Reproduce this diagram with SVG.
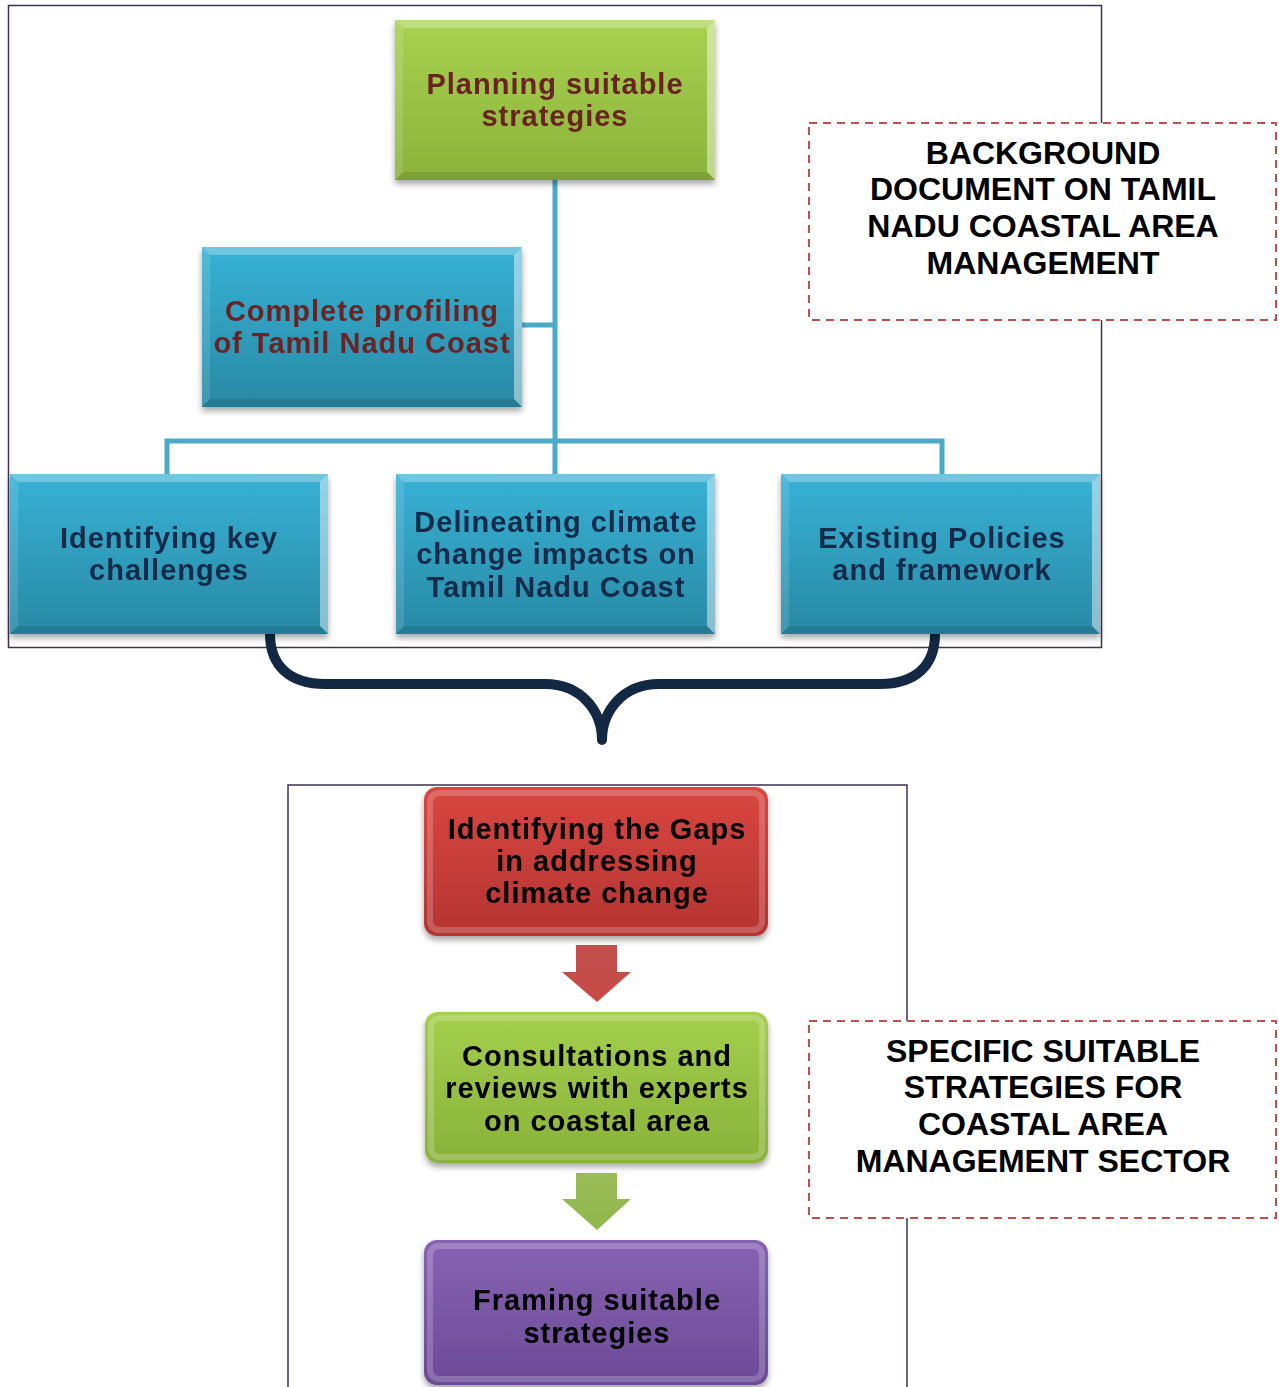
<svg xmlns="http://www.w3.org/2000/svg" width="1279" height="1387" viewBox="0 0 1279 1387">
<defs>
<linearGradient id="gGreen" x1="0" y1="0" x2="0" y2="1"><stop offset="0" stop-color="#a8d150"/><stop offset="1" stop-color="#8bb33a"/></linearGradient>
<linearGradient id="gBlue" x1="0" y1="0" x2="0" y2="1"><stop offset="0" stop-color="#38b2d6"/><stop offset="1" stop-color="#2889a4"/></linearGradient>
<linearGradient id="gRed" x1="0" y1="0" x2="0" y2="1"><stop offset="0" stop-color="#d94641"/><stop offset="1" stop-color="#b53431"/></linearGradient>
<linearGradient id="gGreen2" x1="0" y1="0" x2="0" y2="1"><stop offset="0" stop-color="#a4cf4c"/><stop offset="1" stop-color="#89b23b"/></linearGradient>
<linearGradient id="gPurple" x1="0" y1="0" x2="0" y2="1"><stop offset="0" stop-color="#8763b3"/><stop offset="1" stop-color="#6c4a96"/></linearGradient>
<linearGradient id="gArrR" x1="0" y1="0" x2="0" y2="1"><stop offset="0" stop-color="#c0504d"/><stop offset="1" stop-color="#c84a46"/></linearGradient>
<linearGradient id="gArrG" x1="0" y1="0" x2="0" y2="1"><stop offset="0" stop-color="#9bbb59"/><stop offset="1" stop-color="#8fb84c"/></linearGradient>
<filter id="sh" x="-10%" y="-10%" width="120%" height="130%"><feDropShadow dx="0" dy="4" stdDeviation="3" flood-color="#000" flood-opacity="0.35"/></filter>
</defs>
<style>
.frame{fill:none;stroke:#3f3151;stroke-width:1.5}
.conn{fill:none;stroke:#4aabc6;stroke-width:5}
.brace{fill:none;stroke:#132843;stroke-width:10;stroke-linecap:round;stroke-linejoin:round}
.dash{fill:#fff;stroke:#c0504d;stroke-width:2;stroke-dasharray:8 6}
.bt{fill:#fff;opacity:.28}
.br{fill:#fff;opacity:.45}
.bl{fill:#fff;opacity:.12}
.bb{fill:#000;opacity:.1}
.t{font-family:"Liberation Sans",Arial,sans-serif;font-weight:bold;font-size:29px;letter-spacing:1px;text-anchor:middle}
.tr{fill:#6b2222}
.tn{fill:#142a4a}
.tk{fill:#000}
.cap{font-family:"Liberation Sans",Arial,sans-serif;font-weight:bold;font-size:32px;text-anchor:middle;fill:#000}
.hl{fill:none;stroke:#fff;stroke-opacity:.2;stroke-width:6}
</style>
<rect class="frame" x="8.5" y="5.5" width="1093" height="642"/>
<rect class="frame" x="288" y="785" width="619" height="620"/>
<g id="connectors">
<path class="conn" d="M555,178 V474 M520,325 H555 M167,474 V441 H942 V474"/>
<path class="brace" d="M270,634 C270,666 290,684 325,684 L545,684 C582,684 602,712 602,740 C602,712 622,684 659,684 L880,684 C915,684 935,666 935,634"/>
<g id="arrow1"><polygon fill="url(#gArrR)" points="576,945 617,945 617,972 631,972 597,1002 562,972 576,972"/></g>
<g id="arrow2"><polygon fill="url(#gArrG)" points="576,1173 617,1173 617,1199 631,1199 597,1230 562,1199 576,1199"/></g>
</g>
<g id="n-planning" filter="url(#sh)">
<rect x="395" y="20" width="320" height="160" fill="url(#gGreen)"/>
<polygon class="bt" points="395,20 715,20 707,28 403,28"/>
<polygon class="br" points="715,20 715,180 707,172 707,28"/>
<polygon class="bl" points="395,20 395,180 403,172 403,28"/>
<polygon class="bb" points="395,180 715,180 707,172 403,172"/>
<text class="t tr" x="555" y="94">Planning suitable</text>
<text class="t tr" x="555" y="126">strategies</text>
</g>
<g id="n-profiling" filter="url(#sh)">
<rect x="202" y="247" width="320" height="160" fill="url(#gBlue)"/>
<polygon class="bt" points="202,247 522,247 514,255 210,255"/>
<polygon class="br" points="522,247 522,407 514,399 514,255"/>
<polygon class="bl" points="202,247 202,407 210,399 210,255"/>
<polygon class="bb" points="202,407 522,407 514,399 210,399"/>
<text class="t tr" x="362" y="321">Complete profiling</text>
<text class="t tr" x="362" y="353">of Tamil Nadu Coast</text>
</g>
<g id="n-challenges" filter="url(#sh)">
<rect x="10" y="474" width="318" height="160" fill="url(#gBlue)"/>
<polygon class="bt" points="10,474 328,474 320,482 18,482"/>
<polygon class="br" points="328,474 328,634 320,626 320,482"/>
<polygon class="bl" points="10,474 10,634 18,626 18,482"/>
<polygon class="bb" points="10,634 328,634 320,626 18,626"/>
<text class="t tn" x="169" y="548">Identifying key</text>
<text class="t tn" x="169" y="580">challenges</text>
</g>
<g id="n-impacts" filter="url(#sh)">
<rect x="396" y="474" width="319" height="160" fill="url(#gBlue)"/>
<polygon class="bt" points="396,474 715,474 707,482 404,482"/>
<polygon class="br" points="715,474 715,634 707,626 707,482"/>
<polygon class="bl" points="396,474 396,634 404,626 404,482"/>
<polygon class="bb" points="396,634 715,634 707,626 404,626"/>
<text class="t tn" x="556" y="532">Delineating climate</text>
<text class="t tn" x="556" y="564">change impacts on</text>
<text class="t tn" x="556" y="597">Tamil Nadu Coast</text>
</g>
<g id="n-policies" filter="url(#sh)">
<rect x="781" y="474" width="319" height="160" fill="url(#gBlue)"/>
<polygon class="bt" points="781,474 1100,474 1092,482 789,482"/>
<polygon class="br" points="1100,474 1100,634 1092,626 1092,482"/>
<polygon class="bl" points="781,474 781,634 789,626 789,482"/>
<polygon class="bb" points="781,634 1100,634 1092,626 789,626"/>
<text class="t tn" x="942" y="548">Existing Policies</text>
<text class="t tn" x="942" y="580">and framework</text>
</g>
<g id="n-background">
<rect class="dash" x="809" y="123" width="467" height="197"/>
<text class="cap" x="1043" y="164">BACKGROUND</text>
<text class="cap" x="1043" y="200">DOCUMENT ON TAMIL</text>
<text class="cap" x="1043" y="237">NADU COASTAL AREA</text>
<text class="cap" x="1043" y="274">MANAGEMENT</text>
</g>
<g id="n-gaps" filter="url(#sh)">
<rect x="424" y="787" width="344" height="149" rx="13" fill="url(#gRed)"/>
<rect class="hl" x="430" y="793" width="332" height="137" rx="9"/>
<text class="t tk" x="597" y="839">Identifying the Gaps</text>
<text class="t tk" x="597" y="871">in addressing</text>
<text class="t tk" x="597" y="903">climate change</text>
</g>
<g id="n-consult" filter="url(#sh)">
<rect x="425" y="1012" width="343" height="151" rx="13" fill="url(#gGreen2)"/>
<rect class="hl" x="431" y="1018" width="331" height="139" rx="9"/>
<text class="t tk" x="597" y="1066">Consultations and</text>
<text class="t tk" x="597" y="1098">reviews with experts</text>
<text class="t tk" x="597" y="1131">on coastal area</text>
</g>
<g id="n-framing" filter="url(#sh)">
<rect x="424" y="1240" width="344" height="145" rx="13" fill="url(#gPurple)"/>
<rect class="hl" x="430" y="1246" width="332" height="133" rx="9"/>
<text class="t tk" x="597" y="1310">Framing suitable</text>
<text class="t tk" x="597" y="1343">strategies</text>
</g>
<g id="n-specific">
<rect class="dash" x="809" y="1021" width="467" height="197"/>
<text class="cap" x="1043" y="1062">SPECIFIC SUITABLE</text>
<text class="cap" x="1043" y="1098">STRATEGIES FOR</text>
<text class="cap" x="1043" y="1135">COASTAL AREA</text>
<text class="cap" x="1043" y="1172">MANAGEMENT SECTOR</text>
</g>
</svg>
